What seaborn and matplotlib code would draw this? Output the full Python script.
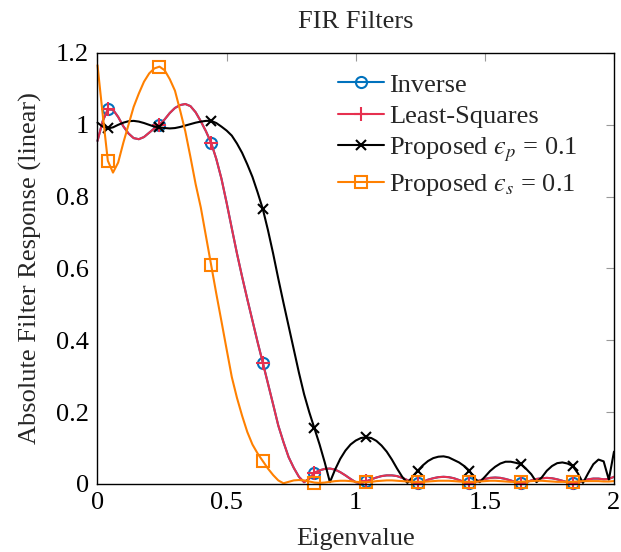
"""FIR filter responses: absolute response vs. eigenvalue for four designs."""
import numpy as np
import pandas as pd
import seaborn as sns
import matplotlib.pyplot as plt

sns.set_theme(style="white")
plt.rcParams["font.family"] = ["Liberation Serif", "DejaVu Serif"]
plt.rcParams["mathtext.fontset"] = "stix"

# ---- data (x grid 0 .. 2, step 0.02) -------------------------------------
eigenvalue = np.round(np.arange(0, 101) * 0.02, 2)

ls_resp = [
    0.955, 1.010, 1.043, 1.042, 1.022, 0.996, 0.976, 0.963, 0.960, 0.966,
    0.978, 0.990, 1.000, 1.015, 1.033, 1.047, 1.055, 1.058, 1.052, 1.035,
    1.010, 0.982, 0.950, 0.905, 0.850, 0.783, 0.712, 0.642, 0.577, 0.515,
    0.455, 0.395, 0.338, 0.280, 0.222, 0.163, 0.117, 0.075, 0.045, 0.020,
    0.005, 0.015, 0.031, 0.038, 0.042, 0.043, 0.040, 0.033, 0.024, 0.014,
    0.005, 0.002, 0.007, 0.013, 0.018, 0.022, 0.024, 0.024, 0.022, 0.017,
    0.011, 0.005, 0.002, 0.006, 0.012, 0.016, 0.019, 0.020, 0.019, 0.016,
    0.011, 0.006, 0.002, 0.005, 0.010, 0.014, 0.017, 0.018, 0.017, 0.014,
    0.010, 0.005, 0.002, 0.005, 0.010, 0.014, 0.016, 0.017, 0.016, 0.013,
    0.009, 0.005, 0.002, 0.004, 0.009, 0.013, 0.015, 0.015, 0.013, 0.014,
    0.020,
]
# the inverse design sits on top of the least-squares one
inverse_resp = list(ls_resp)

prop_p_resp = [
    1.006, 0.995, 0.990, 0.993, 1.000, 1.006, 1.010, 1.011, 1.009, 1.005,
    1.000, 0.995, 0.993, 0.991, 0.990, 0.991, 0.994, 0.998, 1.002, 1.006,
    1.009, 1.011, 1.011, 1.005, 0.995, 0.984, 0.970, 0.948, 0.922, 0.890,
    0.855, 0.812, 0.766, 0.707, 0.642, 0.572, 0.505, 0.440, 0.375, 0.310,
    0.250, 0.200, 0.155, 0.110, 0.060, 0.005, 0.040, 0.070, 0.093, 0.110,
    0.121, 0.128, 0.130, 0.128, 0.120, 0.107, 0.090, 0.068, 0.043, 0.020,
    0.003, 0.020, 0.037, 0.052, 0.064, 0.072, 0.076, 0.077, 0.074, 0.067,
    0.060, 0.050, 0.037, 0.015, 0.005, 0.020, 0.036, 0.048, 0.057, 0.062,
    0.062, 0.059, 0.055, 0.042, 0.027, 0.005, 0.018, 0.037, 0.050, 0.058,
    0.060, 0.057, 0.050, 0.030, 0.003, 0.030, 0.055, 0.068, 0.063, 0.012,
    0.090,
]

prop_s_resp = [
    1.166, 1.030, 0.900, 0.867, 0.895, 0.950, 1.000, 1.050, 1.087, 1.120,
    1.143, 1.157, 1.162, 1.152, 1.127, 1.095, 1.040, 0.982, 0.910, 0.835,
    0.770, 0.690, 0.610, 0.530, 0.453, 0.375, 0.298, 0.240, 0.190, 0.145,
    0.110, 0.085, 0.064, 0.043, 0.025, 0.010, 0.002, 0.006, 0.010, 0.011,
    0.010, 0.007, 0.004, 0.003, 0.004, 0.006, 0.008, 0.009, 0.009, 0.008,
    0.006, 0.005, 0.005, 0.006, 0.008, 0.009, 0.010, 0.010, 0.009, 0.008,
    0.007, 0.006, 0.006, 0.006, 0.007, 0.008, 0.009, 0.009, 0.009, 0.008,
    0.007, 0.006, 0.006, 0.006, 0.007, 0.008, 0.009, 0.009, 0.008, 0.007,
    0.006, 0.006, 0.006, 0.007, 0.008, 0.009, 0.009, 0.008, 0.007, 0.006,
    0.006, 0.006, 0.006, 0.007, 0.008, 0.008, 0.008, 0.008, 0.007, 0.007,
    0.008,
]

series_labels = [
    "Inverse",
    "Least-Squares",
    "Proposed $\u03f5_p$ = 0.1",
    "Proposed $\u03f5_s$ = 0.1",
]

df = pd.DataFrame({
    "eig": eigenvalue,
    "inverse": inverse_resp,
    "ls": ls_resp,
    "prop_p": prop_p_resp,
    "prop_s": prop_s_resp,
})

# column, colour, marker, marker size, face colour
styles = [
    ("inverse", "#0072BD", "o", 8, "none"),
    ("ls", "#E6304F", "+", 10, "#E6304F"),
    ("prop_p", "black", "x", 7, "black"),
    ("prop_s", "#FF8000", "s", 8.5, "none"),
]

FS = 19

fig = plt.figure(figsize=(6.21, 5.52), dpi=100)
ax = fig.add_axes([0.157, 0.1232, 0.8317, 0.7808])

marks = slice(2, None, 10)  # markers every 0.2, starting at 0.04
for (col, color, mk, ms, fc), label in zip(styles, series_labels):
    sns.lineplot(data=df, x="eig", y=col, ax=ax, color=color, lw=1.5,
                 marker=mk, markersize=ms, markevery=marks,
                 markerfacecolor=fc, markeredgecolor=color,
                 markeredgewidth=1.5, label=label, clip_on=False,
                 legend=False)

ax.set_xlim(0, 2)
ax.set_ylim(0, 1.2)
ax.set_xticks([0, 0.5, 1, 1.5, 2])
ax.set_xticklabels(["0", "0.5", "1", "1.5", "2"])
ax.set_yticks([0, 0.2, 0.4, 0.6, 0.8, 1.0, 1.2])
ax.set_yticklabels(["0", "0.2", "0.4", "0.6", "0.8", "1", "1.2"])
ax.tick_params(direction="in", length=6, width=0.8, color="#999999",
               top=True, right=True, labelsize=FS, pad=6, labelcolor="black")
for sp in ax.spines.values():
    sp.set_color("black")
    sp.set_linewidth(1.0)

ax.set_xlabel("Eigenvalue", fontsize=FS, labelpad=10)
ax.set_ylabel("Absolute Filter Response (linear)", fontsize=FS, labelpad=10)
ax.set_title("FIR Filters", fontsize=FS, pad=18)

ax.legend(loc="upper left", bbox_to_anchor=(0.435, 0.99), frameon=False,
          fontsize=FS, handlelength=1.75, handletextpad=0.2, labelspacing=0.3,
          borderaxespad=0.2)

fig.savefig("out.png", dpi=100)
